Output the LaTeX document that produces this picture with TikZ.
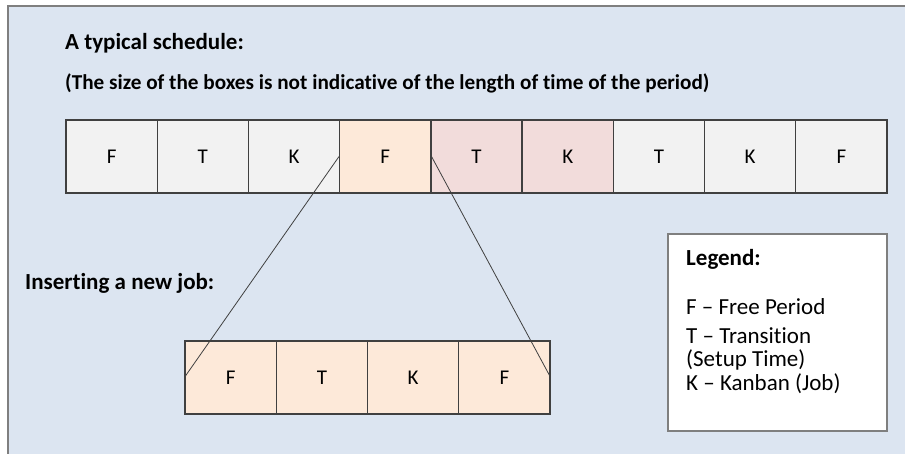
\documentclass[tikz,border=0pt]{standalone}
\usepackage{fontspec}
\setmainfont[Ligatures=NoCommon]{Carlito}
\definecolor{panelbg}{HTML}{DCE5F1}
\definecolor{panelline}{HTML}{7F7F7F}
\definecolor{boxline}{HTML}{404040}
\definecolor{greyfill}{HTML}{F2F2F2}
\definecolor{peachfill}{HTML}{FDE9D9}
\definecolor{pinkfill}{HTML}{F2DCDB}
\begin{document}
\begin{tikzpicture}[x=1pt,y=-1pt,
  slot/.style={draw=boxline,line width=1.3pt,minimum width=91.2pt,minimum height=73pt,
    inner sep=0pt,font=\fontsize{21}{25}\selectfont},
  heading/.style={anchor=base west,inner sep=0pt,font=\fontsize{23}{27}\selectfont\bfseries},
  legendtext/.style={anchor=base west,inner sep=0pt,font=\fontsize{23}{27}\selectfont},
  zoomline/.style={draw=boxline,line width=0.8pt}]
\useasboundingbox (0,0) rectangle (905,454);
\clip (0,0) rectangle (905,454);
% background panel
\draw[fill=panelbg,draw=panelline,line width=1.5pt] (8,6) rectangle (930,480);

% headings
\node[heading] (title) at (65,50) {A typical schedule:};
\node[heading,font=\fontsize{21.2}{25}\selectfont\bfseries] (note) at (65,90)
  {(The size of the boxes is not indicative of the length of time of the period)};
\node[heading] (insert) at (25,290) {Inserting a new job:};

% schedule row
\foreach \i/\l/\c in {1/F/greyfill,2/T/greyfill,3/K/greyfill,4/F/peachfill,5/T/pinkfill,
                      6/K/pinkfill,7/T/greyfill,8/K/greyfill,9/F/greyfill}
  \node[slot,fill=\c] (t\i) at ({66+91.22*(\i-0.5)},156.5) {\l};

% inserted job row
\foreach \i/\l in {1/F,2/T,3/K,4/F}
  \node[slot,fill=peachfill] (b\i) at ({185+91.25*(\i-0.5)},377.5) {\l};

% expansion lines
\draw[zoomline] (t4.west) -- (b1.west);
\draw[zoomline] (t4.east) -- (b4.east);

% legend
\node[draw=panelline,fill=white,line width=1.2pt,minimum width=219pt,minimum height=197pt,
  inner sep=0pt] (legend) at (777.5,332.5) {};
\node[heading] (lgtitle) at (686,266) {Legend:};
\node[legendtext] (lgf) at (686,315) {F -- Free Period};
\node[legendtext] (lgt) at (686,343) {T -- Transition};
\node[legendtext] (lgs) at (686,366.5) {(Setup Time)};
\node[legendtext] (lgk) at (686,390) {K -- Kanban (Job)};
\end{tikzpicture}
\end{document}
